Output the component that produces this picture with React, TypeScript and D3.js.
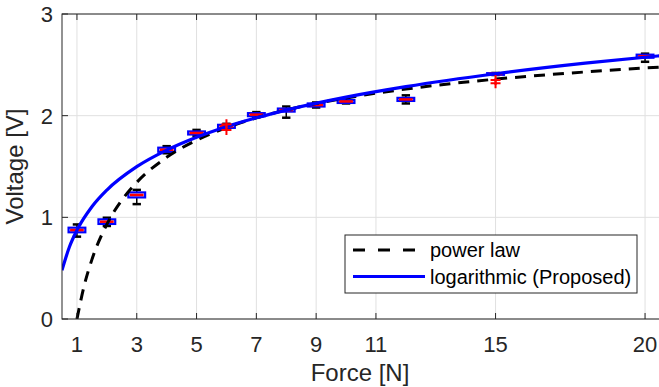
import React, { useRef, useEffect } from "react";
import * as d3 from "d3";

// Tick values
const forceTicks = [1, 3, 5, 7, 9, 11, 15, 20];
const voltageTicks = [0, 1, 2, 3];

// Box plot statistics per force level
const boxForce = [1, 2, 3, 4, 5, 6, 7, 8, 9, 10, 12, 15, 20];
const whiskerLow = [0.81, 0.915, 1.13, 1.63, 1.8, 1.87, 1.985, 1.98, 2.08, 2.12, 2.12, 2.4, 2.53];
const quartile1 = [0.853, 0.935, 1.196, 1.645, 1.815, 1.88, 1.995, 2.04, 2.09, 2.125, 2.145, 2.402, 2.57];
const medianV = [0.875, 0.957, 1.22, 1.665, 1.83, 1.895, 2.01, 2.055, 2.105, 2.14, 2.16, 2.41, 2.585];
const quartile3 = [0.898, 0.98, 1.245, 1.685, 1.845, 1.91, 2.025, 2.07, 2.12, 2.155, 2.175, 2.418, 2.6];
const whiskerHigh = [0.93, 0.996, 1.27, 1.7, 1.86, 1.92, 2.035, 2.09, 2.13, 2.16, 2.2, 2.42, 2.61];
const outlierForce = [6, 6, 15, 15];
const outlierV = [1.915, 1.86, 2.35, 2.32];

// Fitted curves
const logForce = [0.5, 0.75, 1, 1.5, 2, 3, 4, 5, 6, 7, 8, 10, 12, 15, 18, 20.5];
const logVoltage = [0.48, 0.711, 0.874, 1.104, 1.268, 1.498, 1.661, 1.788, 1.892, 1.979, 2.055, 2.182, 2.285, 2.412, 2.516, 2.589];
const powerForce = [1, 1.25, 1.5, 2, 2.5, 3, 4, 5, 6, 7, 8, 10, 12, 15, 18, 20.5];
const powerVoltage = [0, 0.337, 0.584, 0.931, 1.169, 1.344, 1.59, 1.758, 1.882, 1.978, 2.056, 2.174, 2.262, 2.359, 2.43, 2.478];

const legendLabels = ["power law", "logarithmic (Proposed)"];

const FONT = "'Liberation Sans', Arial, Helvetica, sans-serif";

export default function App() {
  const svgRef = useRef<SVGSVGElement>(null);

  useEffect(() => {
    if (!svgRef.current) return;
    document.body.style.margin = "0";

    const width = 659;
    const height = 387;
    const svg = d3.select(svgRef.current);
    svg.selectAll("*").remove();
    svg.attr("width", width).attr("height", height);

    const left = 62, right = 660, top = 14, bottom = 319;

    const x = d3.scaleLinear().domain([0.5, 20.5]).range([left, right]);
    const y = d3.scaleLinear().domain([0, 3]).range([bottom, top]);

    const axisColor = "#262626";

    svg.append("rect")
      .attr("x", 0).attr("y", 0).attr("width", width).attr("height", height)
      .attr("fill", "#ffffff");

    // Grid
    const grid = svg.append("g");
    forceTicks.forEach(t => {
      grid.append("line")
        .attr("x1", x(t)).attr("x2", x(t))
        .attr("y1", top).attr("y2", bottom)
        .attr("stroke", "#e0e0e0").attr("stroke-width", 1);
    });
    voltageTicks.forEach(t => {
      grid.append("line")
        .attr("x1", left).attr("x2", right)
        .attr("y1", y(t)).attr("y2", y(t))
        .attr("stroke", "#e0e0e0").attr("stroke-width", 1);
    });

    svg.append("defs").append("clipPath").attr("id", "plotClip")
      .append("rect")
      .attr("x", left).attr("y", top)
      .attr("width", right - left).attr("height", bottom - top);

    const plot = svg.append("g").attr("clip-path", "url(#plotClip)");

    // Box plots
    const halfBox = 0.28;
    const halfCap = 0.14;
    boxForce.forEach((f, i) => {
      const g = plot.append("g");
      // whiskers
      g.append("line")
        .attr("x1", x(f)).attr("x2", x(f))
        .attr("y1", y(whiskerLow[i])).attr("y2", y(quartile1[i]))
        .attr("stroke", "#000").attr("stroke-width", 1.5);
      g.append("line")
        .attr("x1", x(f)).attr("x2", x(f))
        .attr("y1", y(quartile3[i])).attr("y2", y(whiskerHigh[i]))
        .attr("stroke", "#000").attr("stroke-width", 1.5);
      [whiskerLow[i], whiskerHigh[i]].forEach(v => {
        g.append("line")
          .attr("x1", x(f - halfCap)).attr("x2", x(f + halfCap))
          .attr("y1", y(v)).attr("y2", y(v))
          .attr("stroke", "#000").attr("stroke-width", 2.5);
      });
      // box
      g.append("rect")
        .attr("x", x(f - halfBox))
        .attr("y", y(quartile3[i]))
        .attr("width", x(f + halfBox) - x(f - halfBox))
        .attr("height", y(quartile1[i]) - y(quartile3[i]))
        .attr("fill", "none")
        .attr("stroke", "#0000ff")
        .attr("stroke-width", 2.2);
      // median
      g.append("line")
        .attr("x1", x(f - halfBox) + 1.5).attr("x2", x(f + halfBox) - 1.5)
        .attr("y1", y(medianV[i])).attr("y2", y(medianV[i]))
        .attr("stroke", "#ff0000").attr("stroke-width", 2.5);
    });

    // Curves
    const line = d3.line<[number, number]>()
      .x(d => x(d[0]))
      .y(d => y(d[1]))
      .curve(d3.curveMonotoneX);

    plot.append("path")
      .datum(powerForce.map((f, i) => [f, powerVoltage[i]] as [number, number]))
      .attr("fill", "none")
      .attr("stroke", "#000000")
      .attr("stroke-width", 3)
      .attr("stroke-dasharray", "11,8")
      .attr("d", line);

    plot.append("path")
      .datum(logForce.map((f, i) => [f, logVoltage[i]] as [number, number]))
      .attr("fill", "none")
      .attr("stroke", "#0000ff")
      .attr("stroke-width", 3.2)
      .attr("d", line);

    // Outliers
    outlierForce.forEach((f, i) => {
      const cx = x(f), cy = y(outlierV[i]);
      plot.append("path")
        .attr("d", `M${cx - 5},${cy}H${cx + 5}M${cx},${cy - 5}V${cy + 5}`)
        .attr("stroke", "#ff0000").attr("stroke-width", 2);
    });

    // Axes box
    svg.append("rect")
      .attr("x", left).attr("y", top)
      .attr("width", right - left).attr("height", bottom - top)
      .attr("fill", "none").attr("stroke", axisColor).attr("stroke-width", 1);

    // Ticks (inward, MATLAB style)
    const tickLen = 6;
    forceTicks.forEach(t => {
      svg.append("line")
        .attr("x1", x(t)).attr("x2", x(t))
        .attr("y1", bottom).attr("y2", bottom - tickLen)
        .attr("stroke", axisColor);
      svg.append("line")
        .attr("x1", x(t)).attr("x2", x(t))
        .attr("y1", top).attr("y2", top + tickLen)
        .attr("stroke", axisColor);
      svg.append("text")
        .attr("x", x(t)).attr("y", 352)
        .attr("text-anchor", "middle")
        .style("font-family", FONT).style("font-size", "22px")
        .style("fill", axisColor)
        .text(String(t));
    });
    voltageTicks.forEach(t => {
      svg.append("line")
        .attr("x1", left).attr("x2", left + tickLen)
        .attr("y1", y(t)).attr("y2", y(t))
        .attr("stroke", axisColor);
      svg.append("text")
        .attr("x", 53).attr("y", y(t) + 8)
        .attr("text-anchor", "end")
        .style("font-family", FONT).style("font-size", "22px")
        .style("fill", axisColor)
        .text(String(t));
    });

    // Axis labels
    svg.append("text")
      .attr("x", 360).attr("y", 381)
      .attr("text-anchor", "middle")
      .style("font-family", FONT).style("font-size", "24px")
      .style("fill", axisColor)
      .text("Force [N]");

    svg.append("text")
      .attr("transform", `translate(23, ${(top + bottom) / 2}) rotate(-90)`)
      .attr("text-anchor", "middle")
      .style("font-family", FONT).style("font-size", "24px")
      .style("fill", axisColor)
      .text("Voltage [V]");

    // Legend
    const legend = svg.append("g");
    legend.append("rect")
      .attr("x", 345).attr("y", 235)
      .attr("width", 292).attr("height", 58)
      .attr("fill", "#ffffff")
      .attr("stroke", axisColor).attr("stroke-width", 1);

    const legendStyles = [
      { color: "#000000", dash: "12,13" },
      { color: "#0000ff", dash: null as string | null },
    ];
    legendLabels.forEach((label, i) => {
      const cy = 250 + i * 26.5;
      const l = legend.append("line")
        .attr("x1", 353).attr("x2", 425)
        .attr("y1", cy).attr("y2", cy)
        .attr("stroke", legendStyles[i].color)
        .attr("stroke-width", 3);
      if (legendStyles[i].dash) l.attr("stroke-dasharray", legendStyles[i].dash);
      legend.append("text")
        .attr("x", 430).attr("y", cy + 7)
        .style("font-family", FONT).style("font-size", "20px")
        .style("fill", "#000")
        .text(label);
    });
  }, []);

  return <svg ref={svgRef} style={{ display: "block" }} />;
}
